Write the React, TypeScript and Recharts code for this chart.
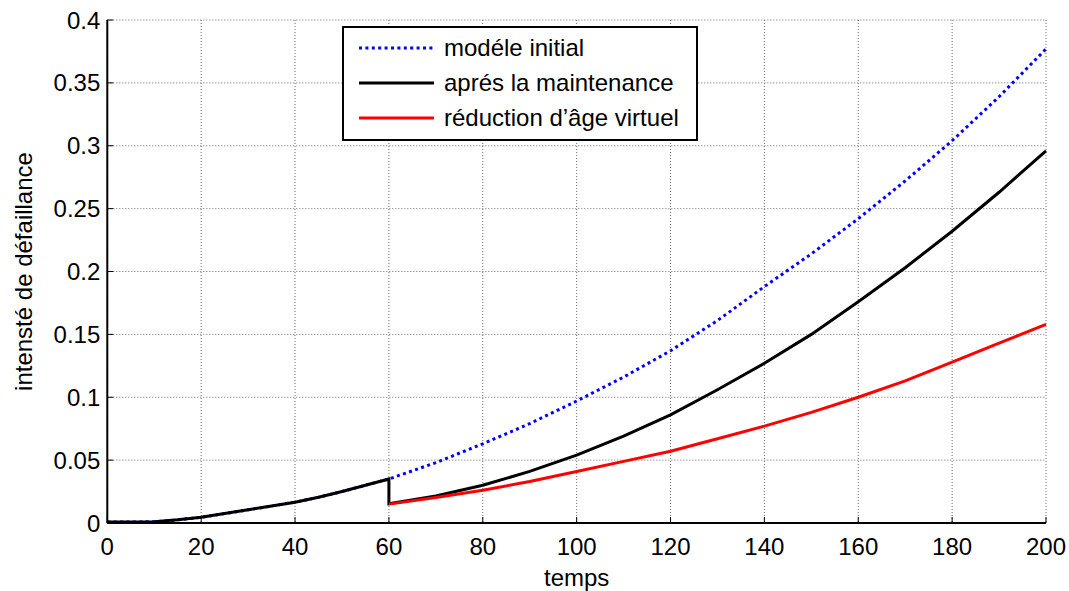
import { LineChart, Line, XAxis, YAxis, CartesianGrid, Legend, Label } from 'recharts';

const FONT = '"Liberation Sans", Arial, Helvetica, sans-serif';
const FS = 24;

const xTicks = [0, 20, 40, 60, 80, 100, 120, 140, 160, 180, 200];
const yTicks = [0, 0.05, 0.1, 0.15, 0.2, 0.25, 0.3, 0.35, 0.4];

// temps avant / après la maintenance (t = 60)
const tBefore = [0, 5, 10, 15, 20, 25, 30, 35, 40, 45, 50, 55, 60];
const tAfter = [60, 70, 80, 90, 100, 110, 120, 130, 140, 150, 160, 170, 180, 190, 200];

// intensité commune avant la maintenance
const avantMaintenance = [0.0008, 0.0008, 0.001, 0.0025, 0.0045, 0.0075, 0.0105, 0.0135, 0.0165, 0.0205, 0.025, 0.03, 0.035];
// après t = 60
const modeleInitial = [0.035, 0.048, 0.063, 0.079, 0.097, 0.116, 0.137, 0.161, 0.188, 0.214, 0.242, 0.272, 0.304, 0.339, 0.377];
const apresMaintenance = [0.0153, 0.0215, 0.030, 0.041, 0.054, 0.069, 0.086, 0.106, 0.127, 0.15, 0.176, 0.203, 0.232, 0.263, 0.296];
const reductionAge = [0.015, 0.0203, 0.026, 0.033, 0.041, 0.049, 0.057, 0.067, 0.077, 0.088, 0.1, 0.113, 0.128, 0.143, 0.158];

const seriesNames = ['modéle initial', 'aprés la maintenance', 'réduction d’âge virtuel'];
const seriesColors = ['#0000ff', '#000000', '#ff0000'];
const seriesDash = ['3 3.4', undefined, undefined];

const toPoints = (ts: number[], vs: number[]) => ts.map((t, i) => ({ t, v: vs[i] }));

const initialData = [...toPoints(tBefore, avantMaintenance), ...toPoints(tAfter.slice(1), modeleInitial.slice(1))];
const maintenanceData = [...toPoints(tBefore, avantMaintenance), ...toPoints(tAfter, apresMaintenance)];
const reductionData = toPoints(tAfter, reductionAge);
const seriesData = [initialData, maintenanceData, reductionData];

const fmtY = (v: number) => String(Number(v.toFixed(2)));

function LegendBox() {
  return (
    <div
      style={{
        width: 352,
        height: 111,
        border: '2px solid #000',
        background: '#fff',
        fontFamily: FONT,
        fontSize: FS,
        color: '#000',
        boxSizing: 'content-box',
      }}
    >
      {seriesNames.map((name, i) => (
        <div key={name} style={{ display: 'flex', alignItems: 'center', height: 35, marginTop: i === 0 ? 2 : 0 }}>
          <svg width={100} height={10} style={{ flex: 'none' }}>
            <line
              x1={15}
              x2={90}
              y1={5}
              y2={5}
              stroke={seriesColors[i]}
              strokeWidth={3}
              strokeDasharray={seriesDash[i]}
            />
          </svg>
          <span style={{ whiteSpace: 'nowrap' }}>{name}</span>
        </div>
      ))}
    </div>
  );
}

export default function App() {
  return (
    <div style={{ position: 'absolute', left: 0, top: 0, width: 1069, height: 591, background: '#fff' }}>
      <LineChart width={1069} height={591} margin={{ top: 20, right: 23, left: 0, bottom: 0 }}>
        <CartesianGrid stroke="#6a6a6a" strokeDasharray="1 2" />
        <XAxis
          dataKey="t"
          type="number"
          domain={[0, 200]}
          ticks={xTicks}
          interval={0}
          height={68}
          axisLine={{ stroke: '#000', strokeWidth: 2 }}
          tickLine={{ stroke: '#000' }}
          tickSize={-6}
          tickMargin={21}
          tick={{ fill: '#000', fontSize: FS, fontFamily: FONT }}
        >
          <Label
            content={({ viewBox }: any) => (
              <text
                x={viewBox.x + viewBox.width / 2}
                y={viewBox.y + 63}
                textAnchor="middle"
                fontSize={FS}
                fontFamily={FONT}
                fill="#000"
              >
                temps
              </text>
            )}
          />
        </XAxis>
        <XAxis
          xAxisId="top"
          orientation="top"
          type="number"
          domain={[0, 200]}
          ticks={xTicks}
          interval={0}
          height={0}
          mirror
          tick={false}
          tickSize={6}
          tickLine={{ stroke: '#000' }}
          axisLine={{ stroke: '#000', strokeWidth: 2 }}
        />
        <YAxis
          type="number"
          domain={[0, 0.4]}
          ticks={yTicks}
          interval={0}
          width={107.3}
          axisLine={{ stroke: '#000', strokeWidth: 2 }}
          tickLine={{ stroke: '#000' }}
          tickSize={-6}
          tickMargin={13}
          tickFormatter={fmtY}
          tick={{ fill: '#000', fontSize: FS, fontFamily: FONT }}
        >
          <Label
            content={({ viewBox }: any) => {
              const cx = 23;
              const cy = viewBox.y + viewBox.height / 2;
              return (
                <text
                  x={cx}
                  y={cy}
                  transform={`rotate(-90, ${cx}, ${cy})`}
                  textAnchor="middle"
                  dominantBaseline="central"
                  fontSize={FS}
                  fontFamily={FONT}
                  fill="#000"
                >
                  intensté de défaillance
                </text>
              );
            }}
          />
        </YAxis>
        <YAxis
          yAxisId="right"
          orientation="right"
          type="number"
          domain={[0, 0.4]}
          ticks={yTicks}
          interval={0}
          width={0}
          mirror
          tick={false}
          tickSize={6}
          tickLine={{ stroke: '#000' }}
          axisLine={{ stroke: '#000', strokeWidth: 2 }}
        />
        <Legend
          layout="horizontal"
          verticalAlign="middle"
          align="center"
          wrapperStyle={{ left: 342, top: 26, width: 356, height: 115 }}
          content={() => <LegendBox />}
        />
        {seriesNames.map((name, i) => (
          <Line
            key={name}
            name={name}
            data={seriesData[i]}
            dataKey="v"
            type="linear"
            stroke={seriesColors[i]}
            strokeWidth={3}
            strokeDasharray={seriesDash[i]}
            dot={false}
            activeDot={false}
            isAnimationActive={false}
          />
        ))}
      </LineChart>
    </div>
  );
}
